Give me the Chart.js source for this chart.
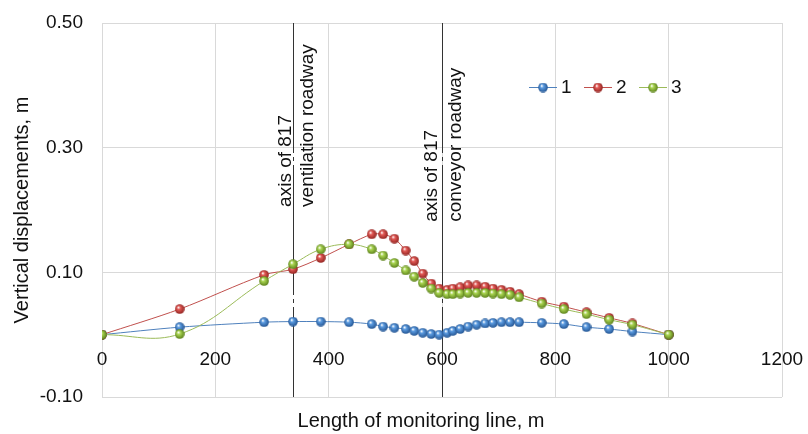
<!DOCTYPE html>
<html>
<head>
<meta charset="utf-8">
<script src="https://cdn.jsdelivr.net/npm/chart.js@4/dist/chart.umd.min.js"></script>
<style>
  html, body { margin: 0; background: #fff; }
  #wrap { width: 808px; height: 434px; }
</style>
</head>
<body>
<div id="wrap"><canvas id="chart"></canvas></div>
<script>
// distance along monitoring line, m
const distance = [0, 137, 286, 337, 386, 436, 476, 496, 516, 536, 551, 566, 581, 595, 609, 619, 632, 646, 661, 676, 690, 705, 720, 736, 776, 815, 855, 895, 936, 1000];
// vertical displacements, m
const series1 = [0, 0.012, 0.020, 0.021, 0.021, 0.020, 0.017, 0.013, 0.011, 0.009, 0.006, 0.003, 0.001, 0.000, 0.003, 0.006, 0.009, 0.013, 0.016, 0.018, 0.019, 0.020, 0.020, 0.020, 0.019, 0.017, 0.012, 0.009, 0.005, 0];
const series2 = [0, 0.041, 0.096, 0.105, 0.123, 0.145, 0.161, 0.161, 0.154, 0.135, 0.118, 0.098, 0.082, 0.074, 0.072, 0.074, 0.076, 0.079, 0.079, 0.077, 0.074, 0.072, 0.069, 0.065, 0.053, 0.045, 0.036, 0.027, 0.018, 0];
const series3 = [0, 0.001, 0.086, 0.113, 0.137, 0.145, 0.137, 0.127, 0.115, 0.103, 0.093, 0.083, 0.074, 0.067, 0.065, 0.065, 0.066, 0.067, 0.067, 0.067, 0.066, 0.065, 0.064, 0.060, 0.050, 0.041, 0.033, 0.024, 0.016, 0];
const seriesNames = ['1', '2', '3'];
const yTicks = [-0.1, 0.1, 0.3, 0.5];
const roadwayAt = [337, 600];
const roadwayText = [['axis of 817', 'ventilation roadway'], ['axis of 817', 'conveyor roadway']];

const font = 'Liberation Sans, Arial, sans-serif';
const lineColors = ['#4f81bd', '#c0504d', '#9bbb59'];
const ballColors = [['#5b9be0', '#1f4f8c'], ['#e35a56', '#8a1f1c'], ['#aad552', '#557a16']];

function ball(c) {
  const cv = document.createElement('canvas');
  cv.width = cv.height = 10;
  const g = cv.getContext('2d');
  const grd = g.createRadialGradient(3.6, 3.2, 0.3, 5, 5, 5.2);
  grd.addColorStop(0, '#ffffff');
  grd.addColorStop(0.3, c[0]);
  grd.addColorStop(1, c[1]);
  g.fillStyle = grd;
  g.beginPath();
  g.arc(5, 5, 4.8, 0, Math.PI * 2);
  g.fill();
  return cv;
}
const balls = ballColors.map(ball);

const roadways = {
  id: 'roadways',
  beforeDatasetsDraw(chart) {
    const { ctx, chartArea: a, scales: { x, y } } = chart;
    const textBottom = [0.205, 0.181];
    const offs = [[-3, 19], [-6, 18]];
    ctx.save();
    roadwayAt.forEach((v, i) => {
      const px = Math.round(x.getPixelForValue(v)) + 0.5;
      ctx.strokeStyle = '#333';
      ctx.lineWidth = 1;
      ctx.setLineDash([130, 4, 4, 4]);
      ctx.beginPath();
      ctx.moveTo(px, a.top);
      ctx.lineTo(px, a.bottom);
      ctx.stroke();
      ctx.setLineDash([]);
      ctx.fillStyle = '#111';
      ctx.font = '19px ' + font;
      ctx.textAlign = 'left';
      ctx.textBaseline = 'alphabetic';
      roadwayText[i].forEach((t, k) => {
        ctx.save();
        ctx.translate(px + offs[i][k], y.getPixelForValue(textBottom[i]));
        ctx.rotate(-Math.PI / 2);
        ctx.fillText(t, 0, 0);
        ctx.restore();
      });
    });
    ctx.restore();
  },
  afterDraw(chart) {
    const { ctx, chartArea: a } = chart;
    ctx.save();
    // legend
    ctx.font = '19px ' + font;
    ctx.textBaseline = 'middle';
    ctx.textAlign = 'left';
    const ly = 87;
    seriesNames.forEach((n, i) => {
      const lx = 529 + i * 55;
      ctx.strokeStyle = lineColors[i];
      ctx.lineWidth = 1;
      ctx.beginPath();
      ctx.moveTo(lx, ly + 0.5);
      ctx.lineTo(lx + 28, ly + 0.5);
      ctx.stroke();
      ctx.drawImage(balls[i], lx + 14 - 5, ly - 4.5);
      ctx.fillStyle = '#111';
      ctx.fillText(n, lx + 32, ly + 1);
    });
    // x title
    ctx.font = '20px ' + font;
    ctx.textAlign = 'center';
    ctx.textBaseline = 'alphabetic';
    ctx.fillText('Length of monitoring line, m', (a.left + a.right) / 2 - 21, 427);
    ctx.restore();
  }
};

const mk = (label, data, i, order, tension) => ({
  label,
  data: distance.map((d, k) => ({ x: d, y: data[k] })),
  borderColor: lineColors[i],
  borderWidth: 1,
  pointStyle: balls[i],
  pointRadius: 5,
  tension,
  order
});

new Chart(document.getElementById('chart').getContext('2d'), {
  type: 'line',
  data: {
    datasets: [
      mk(seriesNames[0], series1, 0, 2, 0.3),
      mk(seriesNames[1], series2, 1, 1, 0.3),
      mk(seriesNames[2], series3, 2, 0, 0.4)
    ]
  },
  options: {
    responsive: true,
    maintainAspectRatio: false,
    animation: false,
    layout: { padding: { top: 23, right: 26, left: 0, bottom: 0 } },
    plugins: { legend: { display: false }, tooltip: { enabled: false } },
    scales: {
      x: {
        type: 'linear',
        position: { y: 0 },
        min: 0, max: 1200,
        grid: { display: false, drawTicks: false },
        border: { display: false },
        ticks: { stepSize: 200, padding: 14, color: '#111', font: { size: 19, family: font }, callback: v => String(v) },
        afterFit: s => { s.paddingLeft = 0; s.paddingRight = 0; }
      },
      x2: {
        type: 'linear',
        position: 'bottom',
        min: 0, max: 1200,
        grid: { color: '#d9d9d9', drawTicks: false },
        border: { display: false },
        ticks: { stepSize: 200, display: false },
        afterFit: s => { s.height = 37; s.paddingLeft = 0; s.paddingRight = 0; }
      },
      y: {
        min: -0.1, max: 0.5,
        grid: { color: '#d9d9d9', drawTicks: false },
        border: { display: false },
        afterBuildTicks: s => { s.ticks = yTicks.map(v => ({ value: v })); },
        afterFit: s => { s.width = 102; s.paddingTop = 0; s.paddingBottom = 0; },
        ticks: { padding: 19, color: '#111', font: { size: 19, family: font }, callback: v => v.toFixed(2) },
        title: { display: true, text: 'Vertical displacements, m', color: '#111', font: { size: 20, family: font }, padding: { top: 10 } }
      }
    }
  },
  plugins: [roadways]
});
</script>
</body>
</html>
